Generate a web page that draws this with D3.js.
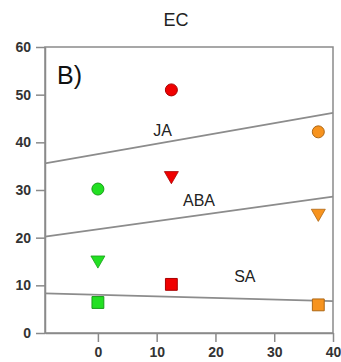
<!DOCTYPE html>
<html>
<head>
<meta charset="utf-8">
<script src="https://cdn.jsdelivr.net/npm/d3@7"></script>
<style>
  html, body { margin: 0; padding: 0; background: #fff; }
  svg { display: block; }
</style>
</head>
<body>
<svg id="chart" width="341" height="362"></svg>
<script>
// Treatment positions on the x axis and measured values per marker shape
const groups = ["green", "red", "orange"];
const groupX = [0, 12.5, 37.5];
const circleY = [30.2, 51, 42.2];
const triangleY = [15.1, 32.8, 24.9];
const squareY = [6.4, 10.2, 5.9];
const groupColors = ["#22e022", "#f00000", "#f7931e"];

// Fitted trend lines: [x0, y0, x1, y1]
const lineNames = ["JA", "ABA", "SA"];
const lineStarts = [[-9, 35.6], [-9, 20.2], [-9, 8.3]];
const lineEnds = [[40, 46.2], [40, 28.6], [40, 6.7]];
const lineLabelPos = [[11, 42.2], [17.2, 27.5], [25, 11.5]];

const xTicks = [0, 10, 20, 30, 40];
const yTicks = [0, 10, 20, 30, 40, 50, 60];

const svg = d3.select("#chart");
const x = d3.scaleLinear().domain([-9, 40]).range([45, 333]);
const y = d3.scaleLinear().domain([0, 60]).range([333, 47]);

const axisColor = "#8a8a8a";
const font = "Arial, 'Liberation Sans', sans-serif";

// Plot frame
svg.append("rect")
  .attr("x", x(-9)).attr("y", y(60))
  .attr("width", x(40) - x(-9)).attr("height", y(0) - y(60))
  .attr("fill", "none").attr("stroke", axisColor).attr("stroke-width", 1.5);

// Axes
const xAxis = svg.append("g").attr("transform", `translate(0,${y(0)})`)
  .call(d3.axisBottom(x).tickValues(xTicks).tickSize(9).tickSizeOuter(0).tickFormat(d3.format("d")));
const yAxis = svg.append("g").attr("transform", `translate(${x(-9)},0)`)
  .call(d3.axisLeft(y).tickValues(yTicks).tickSize(9).tickSizeOuter(0).tickFormat(d3.format("d")));
[xAxis, yAxis].forEach(a => {
  a.select(".domain").attr("stroke", axisColor).attr("stroke-width", 1.5);
  a.selectAll(".tick line").attr("stroke", axisColor).attr("stroke-width", 1.5);
  a.selectAll(".tick text")
    .attr("fill", "#333").attr("font-family", font)
    .attr("font-size", 14).attr("font-weight", "bold");
});
xAxis.selectAll(".tick text").attr("y", 14).attr("dy", "0.71em");
yAxis.selectAll(".tick text").attr("x", -14);

// Trend lines
const lineGen = d3.line().x(d => x(d[0])).y(d => y(d[1]));
lineNames.forEach((name, i) => {
  svg.append("path")
    .attr("d", lineGen([lineStarts[i], lineEnds[i]]))
    .attr("fill", "none").attr("stroke", "#8c8c8c").attr("stroke-width", 1.8);
  svg.append("text")
    .attr("x", x(lineLabelPos[i][0])).attr("y", y(lineLabelPos[i][1]))
    .attr("text-anchor", "middle").attr("dominant-baseline", "middle")
    .attr("font-family", font)
    .attr("font-size", 16).attr("fill", "#222")
    .text(name);
});

// Markers
const sym = (type, size) => d3.symbol().type(type).size(size)();
const tri = d3.symbol().type(d3.symbolTriangle).size(85)();
groups.forEach((g, i) => {
  const cx = x(groupX[i]);
  const edge = d3.color(groupColors[i]).darker(1);
  svg.append("circle")
    .attr("cx", cx).attr("cy", y(circleY[i])).attr("r", 6)
    .attr("fill", groupColors[i]).attr("stroke", edge).attr("stroke-width", 1);
  svg.append("path")
    .attr("d", tri)
    .attr("transform", `translate(${cx},${y(triangleY[i]) - 1}) rotate(180)`)
    .attr("fill", groupColors[i]).attr("stroke", edge).attr("stroke-width", 0.8);
  svg.append("path")
    .attr("d", sym(d3.symbolSquare, 140))
    .attr("transform", `translate(${cx},${y(squareY[i])})`)
    .attr("fill", groupColors[i]).attr("stroke", edge).attr("stroke-width", 1);
});

// Title and panel label
svg.append("text")
  .attr("x", 176).attr("y", 21)
  .attr("text-anchor", "middle").attr("dominant-baseline", "middle")
  .attr("font-family", font)
  .attr("font-size", 18).attr("fill", "#222")
  .text("EC");
svg.append("text")
  .attr("x", 57).attr("y", 77)
  .attr("dominant-baseline", "middle")
  .attr("font-family", font)
  .attr("font-size", 25).attr("fill", "#111")
  .text("B)");
</script>
</body>
</html>
